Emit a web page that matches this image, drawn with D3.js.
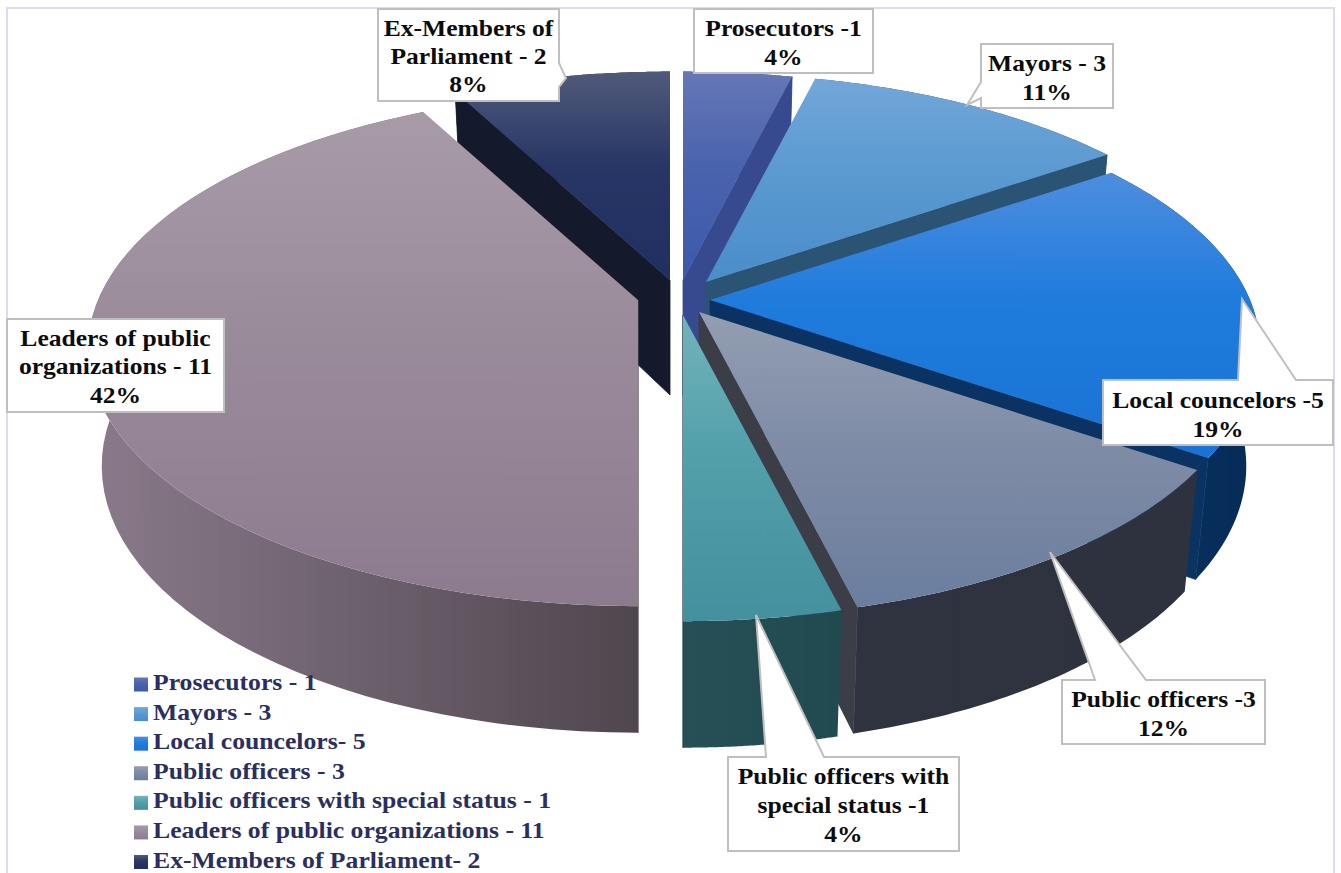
<!DOCTYPE html>
<html><head><meta charset="utf-8">
<script src="https://cdnjs.cloudflare.com/ajax/libs/d3/7.8.5/d3.min.js"></script>
<style>html,body{margin:0;padding:0;background:#fff;overflow:hidden}svg{display:block}</style>
</head><body><svg id="c" width="1341" height="873"></svg>
<script>
// ---- data
const categories = ["Prosecutors","Mayors","Local councelors","Public officers","Public officers with special status","Leaders of public organizations","Ex-Members of Parliament"];
const values = [1,3,5,3,1,11,2];
const legendLabels = ["Prosecutors - 1","Mayors - 3","Local councelors- 5","Public officers - 3","Public officers with special status - 1","Leaders of public organizations - 11","Ex-Members of Parliament- 2"];
const calloutLines = [["Prosecutors -1","4%"],["Mayors - 3","11%"],["Local councelors -5","19%"],["Public officers -3","12%"],["Public officers with","special status -1","4%"],["Leaders of public","organizations - 11","42%"],["Ex-Members of","Parliament - 2","8%"]];
// ---- styles
const topLight = ["#6677b6","#72a7d9","#4d8ede","#939eb2","#73b3bb","#a89ba8","#505a7a"];
const topMid   = ["#4a63ad","#5b9ad1","#1f7bdc","#7f8ca6","#52a0aa","#9a8b9b","#273665"];
const topDark  = ["#3c59aa","#4a8dca","#1873d4","#6b7e9e","#44909e","#8c7b8e","#1f2f60"];
const wallLeft = ["#3f5398","#2c5372","#0a3363","#2f3340","#264f56","#8a7a8b","#151b2c"];
const wallRight= ["#3a4f96","#2c5372","#062b57","#2e323e","#214a50","#4f464e","#151b2c"];
const cutColor = ["#37498f","#2b5374","#0a3363","#3b3d47","#214a50","#4f464e","#141a2c"];
// ---- layout (explosion of each slice from the pie centre, callout frames)
const cx = 680, cy = 300;
const explodeX = [3,26,30,19,3,-42,-10];
const explodeY = [-20,-18,0,12,15,0,-20];
const drawOrder = [6,5,0,1,2,3,4];
const boxX = [694,981,1103,1062,728,7,378];
const boxY = [9,44,380,680,757,319,9];
const boxW = [179,132,230,203,231,217,181];
const boxH = [64,64,65,64,94,93,92];
const baseY = [[36,65],[71,100],[408,437],[707,736],[784,813,842],[346,374,403],[36,64,92]];
const tails = [null,
  [[981,82],[967,105],[981,98]],
  [[1238,380],[1242,299],[1296,380]],
  [[1095,680],[1050,552],[1146,680]],
  [[766,757],[756,615],[824,757]],
  null,
  [[559,63],[566,78],[559,87]]];

const svg = d3.select("#c");
const defs = svg.append("defs");
const xR = d3.scaleLinear().domain([-1,1]).range([-540,540]);
const yR = d3.scaleLinear().domain([-1,1]).range([-248,248]);
const persp = v => 1/(1-0.19*v);
const depth = v => 115*(1+0.1*v);
const bottomShrink = 0.975;
const arcs = d3.pie().sort(null).value(d=>d).startAngle(0).endAngle(2*Math.PI)(values);

function topPt(i,a){const u=Math.sin(a),v=-Math.cos(a),s=persp(v);
  return [cx+explodeX[i]+xR(u)*s, cy+explodeY[i]+yR(v)*s];}
function botPt(i,a){const u=Math.sin(a),v=-Math.cos(a),s=persp(v);
  return [cx+explodeX[i]+xR(u)*s*bottomShrink, cy+explodeY[i]+yR(v)*s+depth(v)];}
const apexTop = i=>[cx+explodeX[i],cy+explodeY[i]];
const apexBot = i=>[cx+explodeX[i],cy+explodeY[i]+depth(0)];
const line = d3.line();
const samples = (a0,a1)=>d3.range(0,61).map(k=>a0+(a1-a0)*k/60);

categories.forEach((c,i)=>{
  const g=defs.append("linearGradient").attr("id","top"+i).attr("x1",0).attr("y1",0).attr("x2",0).attr("y2",1);
  g.append("stop").attr("offset",0).attr("stop-color",topLight[i]);
  g.append("stop").attr("offset",0.45).attr("stop-color",topMid[i]);
  g.append("stop").attr("offset",1).attr("stop-color",topDark[i]);
  const w=defs.append("linearGradient").attr("id","wall"+i).attr("x1",0).attr("y1",0).attr("x2",1).attr("y2",0);
  w.append("stop").attr("offset",0).attr("stop-color",wallLeft[i]);
  w.append("stop").attr("offset",1).attr("stop-color",wallRight[i]);
});

// frame
svg.append("rect").attr("x",7).attr("y",8).attr("width",1327).attr("height",900)
  .attr("fill","#fff").attr("stroke","#d9dcf2").attr("stroke-width",2);

// slices
const pie = svg.append("g");
drawOrder.forEach(i=>{
  const d=arcs[i], g=pie.append("g").attr("class","slice");
  const leftSide = d.startAngle>=Math.PI-1e-6;
  const cutA = leftSide? d.startAngle : d.endAngle;
  const as=samples(d.startAngle,d.endAngle);
  g.append("path").attr("fill",`url(#wall${i})`)
    .attr("d",line(as.map(a=>topPt(i,a)).concat(as.slice().reverse().map(a=>botPt(i,a))))+"Z");
  g.append("path").attr("fill",cutColor[i]).attr("stroke",cutColor[i]).attr("stroke-width",0.8)
    .attr("d",line([apexTop(i),topPt(i,cutA),botPt(i,cutA),apexBot(i)])+"Z");
  g.append("path").attr("fill",`url(#top${i})`)
    .attr("d",line([apexTop(i)].concat(as.map(a=>topPt(i,a))))+"Z");
});

// legend
const stretch = (sel,f)=>sel.each(function(){
  this.setAttribute("textLength",this.getComputedTextLength()*f);
  this.setAttribute("lengthAdjust","spacingAndGlyphs");
});
const legY = d3.scalePoint().domain(d3.range(legendLabels.length)).range([684.5,862]);
const leg = svg.append("g").selectAll("g").data(legendLabels).join("g");
leg.append("rect").attr("x",134).attr("y",(d,i)=>legY(i)-7).attr("width",14).attr("height",14)
   .attr("fill",(d,i)=>`url(#top${i})`);
leg.append("text").attr("x",153).attr("y",(d,i)=>legY(i)+5.5)
   .attr("font-family","'Liberation Serif',serif").attr("font-weight","bold")
   .attr("font-size",24).attr("fill","#2a2f5f").text(d=>d).call(stretch,1.07);

// callouts
const co = svg.append("g");
calloutLines.forEach((lines,i)=>{
  const x=boxX[i],y=boxY[i],w=boxW[i],h=boxH[i],t=tails[i];
  let pts=[[x,y],[x+w,y],[x+w,y+h],[x,y+h]];
  if(t){
    if(t[0][1]===y) pts=[[x,y],t[0],t[1],t[2],[x+w,y],[x+w,y+h],[x,y+h]];
    else if(t[0][0]===x+w) pts=[[x,y],[x+w,y],t[0],t[1],t[2],[x+w,y+h],[x,y+h]];
    else pts=[[x,y],[x+w,y],[x+w,y+h],[x,y+h],t[2],t[1],t[0]];
  }
  co.append("path").attr("d",line(pts)+"Z").attr("fill","#fff").attr("stroke","#bfbfbf").attr("stroke-width",2);
  lines.forEach((s,k)=>{
    co.append("text").attr("x",x+w/2).attr("y",baseY[i][k]).attr("text-anchor","middle")
      .attr("font-family","'Liberation Serif',serif").attr("font-weight","bold").attr("font-size",24)
      .attr("fill","#0c0c0c").text(s).call(stretch,1.065);
  });
});
</script></body></html>
